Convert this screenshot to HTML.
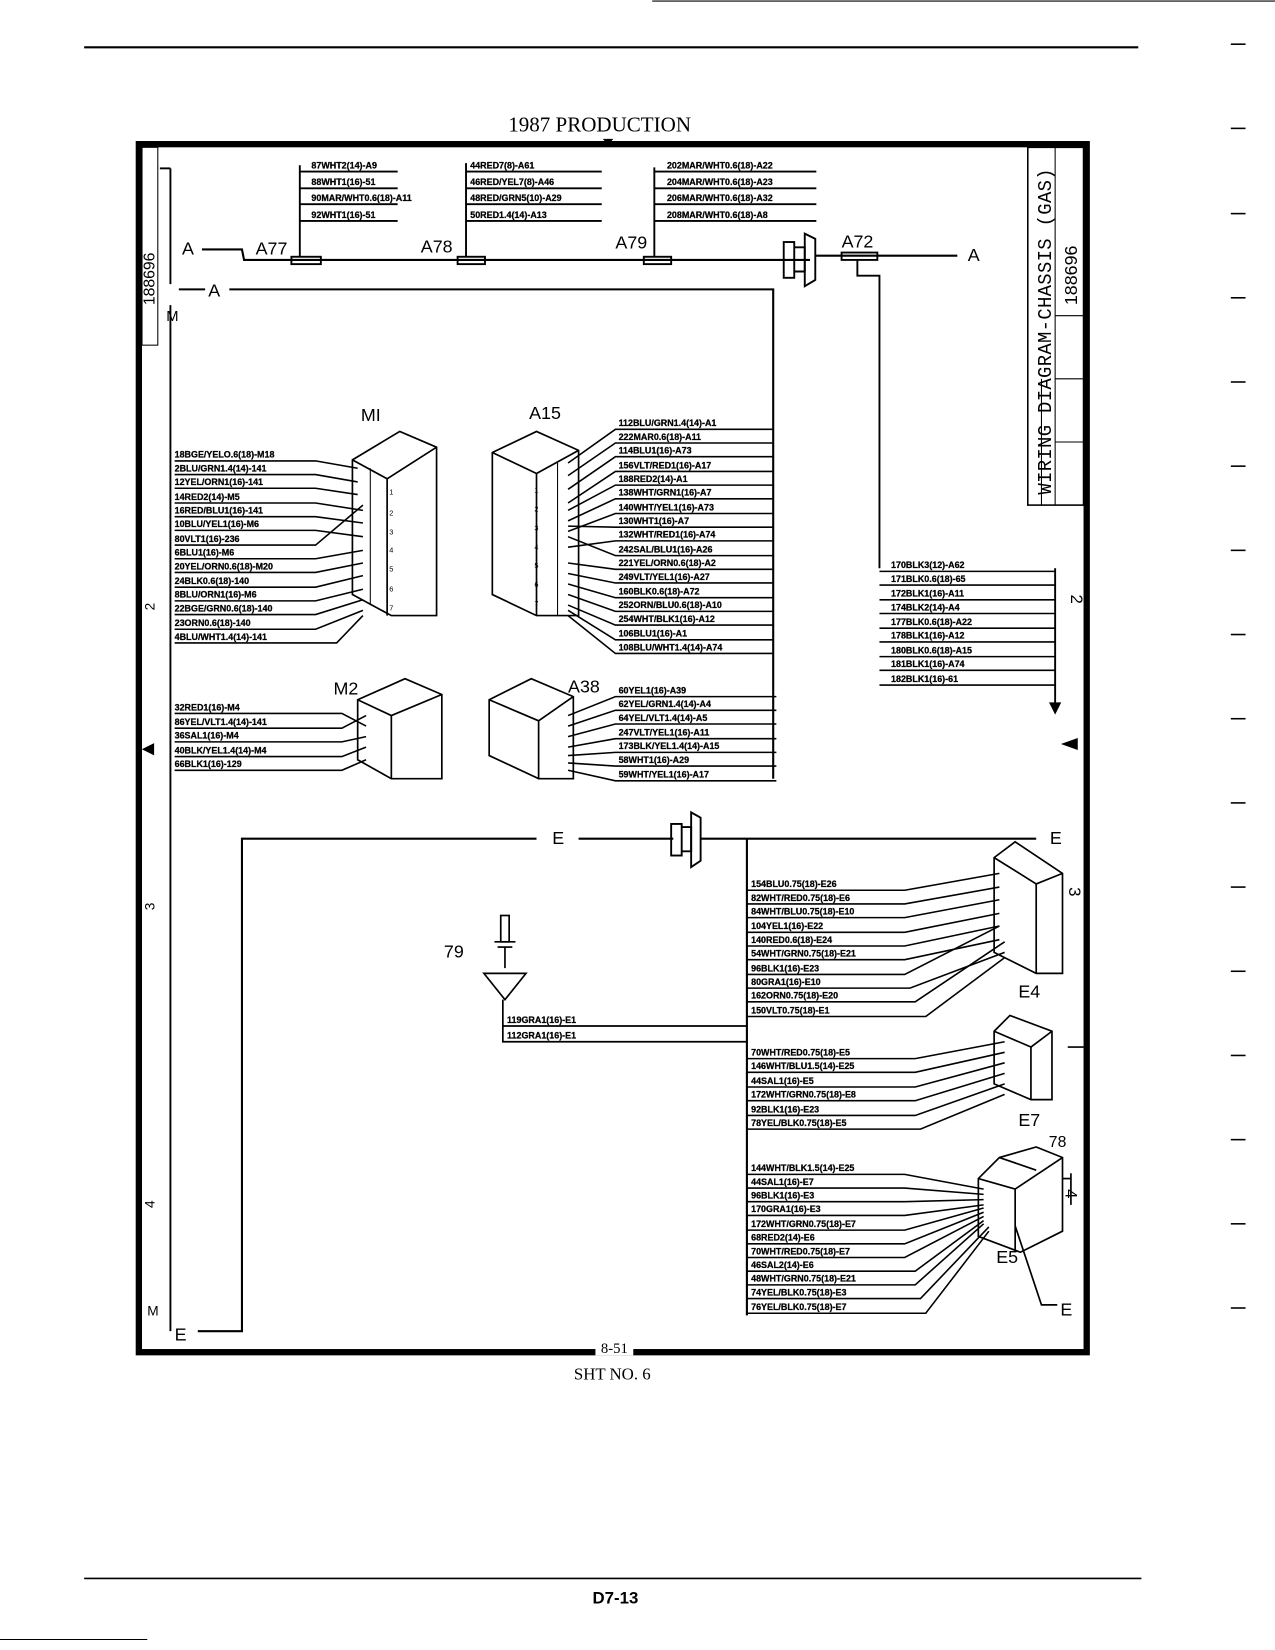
<!DOCTYPE html>
<html><head><meta charset="utf-8"><style>
html,body{margin:0;padding:0;background:#fff;}
svg{display:block;}
text{font-family:"Liberation Sans",sans-serif;fill:#000;}
.l{font-size:8.5px;font-weight:bold;stroke:#000;stroke-width:0.25px;}
.b{font-size:17px;}
</style></head><body>
<svg width="1275" height="1650" viewBox="0 0 1212 1568" preserveAspectRatio="none" xmlns="http://www.w3.org/2000/svg">
<g stroke="#000" fill="none">
<line x1="80" y1="45" x2="1082" y2="45" stroke-width="2"/>
<line x1="620" y1="1" x2="1212" y2="1" stroke-width="1"/>
<line x1="80" y1="1500" x2="1085" y2="1500" stroke-width="1.5"/>
<line x1="0" y1="1558" x2="140" y2="1558" stroke-width="1"/>
<g stroke-width="1.5">
<line x1="1170" y1="42" x2="1184" y2="42"/><line x1="1170" y1="122" x2="1184" y2="122"/><line x1="1170" y1="203" x2="1184" y2="203"/><line x1="1170" y1="283" x2="1184" y2="283"/><line x1="1170" y1="363" x2="1184" y2="363"/><line x1="1170" y1="443" x2="1184" y2="443"/><line x1="1170" y1="523" x2="1184" y2="523"/><line x1="1170" y1="603" x2="1184" y2="603"/><line x1="1170" y1="683" x2="1184" y2="683"/><line x1="1170" y1="763" x2="1184" y2="763"/><line x1="1170" y1="843" x2="1184" y2="843"/><line x1="1170" y1="923" x2="1184" y2="923"/><line x1="1170" y1="1003" x2="1184" y2="1003"/><line x1="1170" y1="1083" x2="1184" y2="1083"/><line x1="1170" y1="1163" x2="1184" y2="1163"/><line x1="1170" y1="1243" x2="1184" y2="1243"/>
</g>
<rect x="132" y="137" width="901" height="1148" stroke-width="6"/>
<line x1="162" y1="290" x2="162" y2="1265" stroke-width="1.8"/>
<line x1="152" y1="160" x2="162" y2="160" stroke-width="1.8"/>
<line x1="162" y1="160" x2="162" y2="270" stroke-width="1.8"/>
<rect x="135" y="140" width="15" height="188" stroke-width="1"/>
<rect x="977" y="140" width="53" height="340" stroke-width="1.5"/>
<line x1="1003" y1="140" x2="1003" y2="480"/><line x1="1003" y1="300" x2="1030" y2="300"/>
<line x1="1003" y1="360" x2="1030" y2="360"/><line x1="1003" y1="420" x2="1030" y2="420"/>
<line x1="990" y1="360" x2="990" y2="480"/>
<polyline points="192,237 230,237 232,247 770,247" stroke-width="2"/>
<rect x="277" y="244" width="28" height="7" stroke-width="1.8"/>
<rect x="435" y="244" width="26" height="7" stroke-width="1.8"/>
<rect x="612" y="244" width="26" height="7" stroke-width="1.8"/>
<line x1="285" y1="157" x2="285" y2="244" stroke-width="1.8"/>
<line x1="443" y1="155" x2="443" y2="244" stroke-width="1.8"/>
<line x1="622" y1="159" x2="622" y2="244" stroke-width="1.8"/>
<rect x="745" y="230" width="10" height="34" stroke-width="1.8"/>
<polyline points="755,235 765,235 765,258 755,258" stroke-width="1.8"/>
<polygon points="765,222 775,227 775,266 765,272" stroke-width="1.8"/>
<line x1="775" y1="243" x2="910" y2="243" stroke-width="2"/>
<rect x="800" y="240" width="34" height="7" stroke-width="1.8"/>
<polyline points="815,247 815,262 836,262 836,540" stroke-width="1.8"/>
<line x1="1003" y1="540" x2="1003" y2="672" stroke-width="1.8"/>
<polygon points="998,668 1008,668 1003,678" fill="#000"/>
<polyline points="218,275 735,275 735,740" stroke-width="2"/>
<line x1="170" y1="275" x2="195" y2="275" stroke-width="2"/>
<polyline points="510,797 230,797 230,1265 188,1265" stroke-width="2"/>
<line x1="550" y1="797" x2="640" y2="797" stroke-width="2"/>
<rect x="638" y="783" width="10" height="30" stroke-width="1.8"/>
<polyline points="648,786 657,786 657,809 648,809" stroke-width="1.8"/>
<polygon points="657,772 666,777 666,818 657,824" stroke-width="1.8"/>
<line x1="666" y1="797" x2="985" y2="797" stroke-width="2"/>
<line x1="710" y1="797" x2="710" y2="1250" stroke-width="2"/>
<line x1="1015" y1="995" x2="1030" y2="995" stroke-width="1.5"/>
<polygon points="1010,707 1024,702 1024,712" fill="#000"/>
<polygon points="136,712 146,707 146,717" fill="#000"/>
</g>
<text x="570" y="125" text-anchor="middle" style="font-family:'Liberation Serif',serif;font-size:20px">1987 PRODUCTION</text>
<polygon points="573,132 583,132 578,138" fill="#000"/>
<rect x="566" y="1280" width="36" height="8" fill="#fff"/>
<text x="584" y="1286" text-anchor="middle" style="font-size:14px;font-family:'Liberation Serif',serif">8-51</text>
<text x="582" y="1311" text-anchor="middle" style="font-size:16px;font-family:'Liberation Serif',serif">SHT NO. 6</text>
<text x="585" y="1524" text-anchor="middle" style="font-size:16px;font-weight:bold">D7-13</text>
<text class="b" x="173" y="242">A</text><text class="b" x="243" y="242">A77</text>
<text class="b" x="400" y="240">A78</text><text class="b" x="585" y="236">A79</text>
<text class="b" x="800" y="235">A72</text><text class="b" x="920" y="248">A</text>
<text class="b" x="198" y="282">A</text><text x="158" y="305" style="font-size:14px">M</text>
<text class="b" x="525" y="802">E</text><text class="b" x="998" y="802">E</text>
<text class="b" x="166" y="1274">E</text><text class="b" x="1008" y="1250">E</text>
<text x="140" y="1250" style="font-size:13px">M</text>
<text class="b" x="343" y="400">MI</text><text class="b" x="503" y="398">A15</text>
<text class="b" x="317" y="660">M2</text><text class="b" x="540" y="658">A38</text>
<text class="b" x="422" y="910">79</text><text class="b" x="968" y="948">E4</text>
<text class="b" x="968" y="1070">E7</text><text class="b" x="947" y="1200">E5</text>
<text x="997" y="1090" style="font-size:15px">78</text>
<text transform="translate(147,290) rotate(-90)" style="font-size:15px">188696</text>
<text transform="translate(999,470) rotate(-90)" style="font-size:18px;font-family:'Liberation Mono',monospace" textLength="310">WIRING DIAGRAM-CHASSIS (GAS)</text>
<text transform="translate(1024,290) rotate(-90)" style="font-size:17px">188696</text>
<text transform="translate(147,580) rotate(-90)" style="font-size:13px">2</text>
<text transform="translate(147,865) rotate(-90)" style="font-size:13px">3</text>
<text transform="translate(147,1148) rotate(-90)" style="font-size:13px">4</text>
<text transform="translate(1018,565) rotate(90)" style="font-size:16px">2</text>
<text transform="translate(1016,843) rotate(90)" style="font-size:16px">3</text>
<text transform="translate(1013,1130) rotate(90)" style="font-size:16px">4</text>

<g class="l">
<text x="296" y="160">87WHT2(14)-A9</text><text x="296" y="176">88WHT1(16)-51</text><text x="296" y="191">90MAR/WHT0.6(18)-A11</text><text x="296" y="207">92WHT1(16)-51</text>
<text x="447" y="160">44RED7(8)-A61</text><text x="447" y="176">46RED/YEL7(8)-A46</text><text x="447" y="191">48RED/GRN5(10)-A29</text><text x="447" y="207">50RED1.4(14)-A13</text>
<text x="634" y="160">202MAR/WHT0.6(18)-A22</text><text x="634" y="176">204MAR/WHT0.6(18)-A23</text><text x="634" y="191">206MAR/WHT0.6(18)-A32</text><text x="634" y="207">208MAR/WHT0.6(18)-A8</text>
</g>
<g stroke="#000" stroke-width="1.8">
<line x1="285" y1="163" x2="378" y2="163"/><line x1="285" y1="179" x2="378" y2="179"/><line x1="285" y1="194" x2="378" y2="194"/><line x1="285" y1="210" x2="378" y2="210"/>
<line x1="443" y1="163" x2="572" y2="163"/><line x1="443" y1="179" x2="572" y2="179"/><line x1="443" y1="194" x2="572" y2="194"/><line x1="443" y1="210" x2="572" y2="210"/>
<line x1="622" y1="163" x2="776" y2="163"/><line x1="622" y1="179" x2="776" y2="179"/><line x1="622" y1="194" x2="776" y2="194"/><line x1="622" y1="210" x2="776" y2="210"/>
</g>

<g stroke="#000" fill="none" stroke-width="1.6">
<polygon points="335,437 380,410 415,425 415,585 372,585 335,565"/>
<line x1="335" y1="437" x2="368" y2="455"/><line x1="368" y1="455" x2="415" y2="425"/><line x1="368" y1="455" x2="368" y2="585"/>
<line x1="352" y1="445" x2="352" y2="575" stroke-width="1"/>
<polygon points="468,430 510,410 550,428 550,585 510,585 468,565"/>
<line x1="468" y1="430" x2="510" y2="450"/><line x1="510" y1="450" x2="550" y2="428"/><line x1="510" y1="450" x2="510" y2="585"/>
<line x1="530" y1="440" x2="530" y2="585" stroke-width="1"/>
<polygon points="340,665 385,645 420,660 420,740 372,740 340,722"/>
<line x1="340" y1="665" x2="372" y2="680"/><line x1="372" y1="680" x2="420" y2="660"/><line x1="372" y1="680" x2="372" y2="740"/>
<polygon points="465,665 505,645 545,662 545,740 512,740 465,718"/>
<line x1="465" y1="665" x2="512" y2="685"/><line x1="512" y1="685" x2="545" y2="662"/><line x1="512" y1="685" x2="512" y2="740"/>
<polygon points="945,815 965,800 1010,830 1010,925 985,925 945,905"/>
<line x1="945" y1="815" x2="985" y2="840"/><line x1="985" y1="840" x2="1010" y2="830"/><line x1="985" y1="840" x2="985" y2="925"/>
<polygon points="945,980 960,965 1000,980 1000,1045 980,1045 945,1030"/>
<line x1="945" y1="980" x2="980" y2="995"/><line x1="980" y1="995" x2="1000" y2="980"/><line x1="980" y1="995" x2="980" y2="1045"/>
<polygon points="930,1120 950,1100 985,1090 1010,1100 1010,1170 970,1190 930,1175"/>
<line x1="930" y1="1120" x2="965" y2="1130"/><line x1="965" y1="1130" x2="1010" y2="1100"/><line x1="965" y1="1130" x2="965" y2="1190"/>
<line x1="950" y1="1100" x2="985" y2="1112"/>
<line x1="1010" y1="1120" x2="1018" y2="1120"/><line x1="1018" y1="1115" x2="1018" y2="1145"/>
<polyline points="965,1165 990,1240 1005,1240"/>
<rect x="476" y="870" width="8" height="25"/>
<line x1="470" y1="895" x2="490" y2="895"/><line x1="473" y1="900" x2="487" y2="900"/>
<line x1="480" y1="900" x2="480" y2="920"/>
<polygon points="460,925 500,925 480,950"/>
<polyline points="478,950 478,990 710,990"/>
<line x1="478" y1="975" x2="710" y2="975"/>
</g>
<g style="font-size:7px">
<text x="370" y="470">1</text><text x="370" y="490">2</text><text x="370" y="508">3</text><text x="370" y="525">4</text><text x="370" y="543">5</text><text x="370" y="562">6</text><text x="370" y="580">7</text>
<text x="508" y="468">1</text><text x="508" y="486">2</text><text x="508" y="504">3</text><text x="508" y="522">4</text><text x="508" y="540">5</text><text x="508" y="558">6</text><text x="508" y="576">7</text>
</g>

<g class="l">
<text x="166" y="435">18BGE/YELO.6(18)-M18</text><text x="166" y="448">2BLU/GRN1.4(14)-141</text><text x="166" y="461">12YEL/ORN1(16)-141</text><text x="166" y="475">14RED2(14)-M5</text><text x="166" y="488">16RED/BLU1(16)-141</text><text x="166" y="501">10BLU/YEL1(16)-M6</text><text x="166" y="515">80VLT1(16)-236</text><text x="166" y="528">6BLU1(16)-M6</text><text x="166" y="541">20YEL/ORN0.6(18)-M20</text><text x="166" y="555">24BLK0.6(18)-140</text><text x="166" y="568">8BLU/ORN1(16)-M6</text><text x="166" y="581">22BGE/GRN0.6(18)-140</text><text x="166" y="595">23ORN0.6(18)-140</text><text x="166" y="608">4BLU/WHT1.4(14)-141</text>
</g>
<g stroke="#000" stroke-width="1.5" fill="none">
<polyline points="166,438 300,438 340,445"/><polyline points="166,451 300,451 340,458"/><polyline points="166,464 300,464 340,470"/><polyline points="166,478 300,478 345,485"/><polyline points="166,491 300,491 345,497"/><polyline points="166,504 300,504 345,510"/><polyline points="166,518 300,518 345,480"/><polyline points="166,531 300,531 345,523"/><polyline points="166,544 300,544 345,535"/><polyline points="166,558 300,558 345,547"/><polyline points="166,571 300,571 345,560"/><polyline points="166,584 300,584 345,570"/><polyline points="166,598 300,598 345,580"/><polyline points="166,611 320,611 345,585"/>
</g>
<g class="l">
<text x="588" y="405">112BLU/GRN1.4(14)-A1</text><text x="588" y="418">222MAR0.6(18)-A11</text><text x="588" y="431">114BLU1(16)-A73</text><text x="588" y="445">156VLT/RED1(16)-A17</text><text x="588" y="458">188RED2(14)-A1</text><text x="588" y="471">138WHT/GRN1(16)-A7</text><text x="588" y="485">140WHT/YEL1(16)-A73</text><text x="588" y="498">130WHT1(16)-A7</text><text x="588" y="511">132WHT/RED1(16)-A74</text><text x="588" y="525">242SAL/BLU1(16)-A26</text><text x="588" y="538">221YEL/ORN0.6(18)-A2</text><text x="588" y="551">249VLT/YEL1(16)-A27</text><text x="588" y="565">160BLK0.6(18)-A72</text><text x="588" y="578">252ORN/BLU0.6(18)-A10</text><text x="588" y="591">254WHT/BLK1(16)-A12</text><text x="588" y="605">106BLU1(16)-A1</text><text x="588" y="618">108BLU/WHT1.4(14)-A74</text>
</g>
<g stroke="#000" stroke-width="1.5" fill="none">
<polyline points="735,408 585,408 540,440"/><polyline points="735,421 585,421 540,452"/><polyline points="735,434 585,434 540,465"/><polyline points="735,448 585,448 540,478"/><polyline points="735,461 585,461 540,485"/><polyline points="735,474 585,474 540,495"/><polyline points="735,488 585,488 540,505"/><polyline points="735,501 585,501 540,500"/><polyline points="735,514 585,514 540,520"/><polyline points="735,528 585,528 540,510"/><polyline points="735,541 585,541 540,535"/><polyline points="735,554 585,554 540,545"/><polyline points="735,568 585,568 540,555"/><polyline points="735,581 585,581 540,565"/><polyline points="735,594 585,594 540,575"/><polyline points="735,608 585,608 540,580"/><polyline points="735,621 585,621 540,585"/>
</g>
<g class="l">
<text x="166" y="675">32RED1(16)-M4</text><text x="166" y="689">86YEL/VLT1.4(14)-141</text><text x="166" y="702">36SAL1(16)-M4</text><text x="166" y="716">40BLK/YEL1.4(14)-M4</text><text x="166" y="729">66BLK1(16)-129</text>
</g>
<g stroke="#000" stroke-width="1.5" fill="none">
<polyline points="166,678 325,678 348,690"/><polyline points="166,692 325,692 348,680"/><polyline points="166,705 325,705 348,700"/><polyline points="166,719 325,719 348,710"/><polyline points="166,732 325,732 348,722"/>
</g>
<g class="l">
<text x="588" y="659">60YEL1(16)-A39</text><text x="588" y="672">62YEL/GRN1.4(14)-A4</text><text x="588" y="685">64YEL/VLT1.4(14)-A5</text><text x="588" y="699">247VLT/YEL1(16)-A11</text><text x="588" y="712">173BLK/YEL1.4(14)-A15</text><text x="588" y="725">58WHT1(16)-A29</text><text x="588" y="739">59WHT/YEL1(16)-A17</text>
</g>
<g stroke="#000" stroke-width="1.5" fill="none">
<polyline points="738,662 585,662 540,680"/><polyline points="738,675 585,675 540,690"/><polyline points="738,688 585,688 540,700"/><polyline points="738,702 585,702 540,710"/><polyline points="738,715 585,715 540,718"/><polyline points="738,728 585,728 540,725"/><polyline points="738,742 585,742 540,732"/>
</g>
<g class="l">
<text x="847" y="540">170BLK3(12)-A62</text><text x="847" y="553">171BLK0.6(18)-65</text><text x="847" y="567">172BLK1(16)-A11</text><text x="847" y="580">174BLK2(14)-A4</text><text x="847" y="594">177BLK0.6(18)-A22</text><text x="847" y="607">178BLK1(16)-A12</text><text x="847" y="621">180BLK0.6(18)-A15</text><text x="847" y="634">181BLK1(16)-A74</text><text x="847" y="648">182BLK1(16)-61</text>
</g>
<g stroke="#000" stroke-width="1.5">
<line x1="836" y1="543" x2="1003" y2="543"/><line x1="836" y1="556" x2="1003" y2="556"/><line x1="836" y1="570" x2="1003" y2="570"/><line x1="836" y1="583" x2="1003" y2="583"/><line x1="836" y1="597" x2="1003" y2="597"/><line x1="836" y1="610" x2="1003" y2="610"/><line x1="836" y1="624" x2="1003" y2="624"/><line x1="836" y1="637" x2="1003" y2="637"/><line x1="836" y1="651" x2="1003" y2="651"/>
</g>
<g class="l"><text x="482" y="972">119GRA1(16)-E1</text><text x="482" y="987">112GRA1(16)-E1</text></g>
<g class="l">
<text x="714" y="843">154BLU0.75(18)-E26</text><text x="714" y="856">82WHT/RED0.75(18)-E6</text><text x="714" y="869">84WHT/BLU0.75(18)-E10</text><text x="714" y="883">104YEL1(16)-E22</text><text x="714" y="896">140RED0.6(18)-E24</text><text x="714" y="909">54WHT/GRN0.75(18)-E21</text><text x="714" y="923">96BLK1(16)-E23</text><text x="714" y="936">80GRA1(16)-E10</text><text x="714" y="949">162ORN0.75(18)-E20</text><text x="714" y="963">150VLT0.75(18)-E1</text>
</g>
<g stroke="#000" stroke-width="1.5" fill="none">
<polyline points="710,846 860,846 950,830"/><polyline points="710,859 860,859 950,843"/><polyline points="710,872 860,872 950,855"/><polyline points="710,886 860,886 950,868"/><polyline points="710,899 860,899 950,880"/><polyline points="710,912 860,912 950,893"/><polyline points="710,926 860,926 950,880"/><polyline points="710,939 865,939 955,905"/><polyline points="710,952 870,952 955,895"/><polyline points="710,966 880,966 955,910"/>
</g>
<g class="l">
<text x="714" y="1003">70WHT/RED0.75(18)-E5</text><text x="714" y="1016">146WHT/BLU1.5(14)-E25</text><text x="714" y="1030">44SAL1(16)-E5</text><text x="714" y="1043">172WHT/GRN0.75(18)-E8</text><text x="714" y="1057">92BLK1(16)-E23</text><text x="714" y="1070">78YEL/BLK0.75(18)-E5</text>
</g>
<g stroke="#000" stroke-width="1.5" fill="none">
<polyline points="710,1006 870,1006 955,990"/><polyline points="710,1019 870,1019 955,1000"/><polyline points="710,1033 870,1033 955,1010"/><polyline points="710,1046 870,1046 955,1020"/><polyline points="710,1060 870,1060 955,1030"/><polyline points="710,1073 875,1073 955,1040"/>
</g>
<g class="l">
<text x="714" y="1113">144WHT/BLK1.5(14)-E25</text><text x="714" y="1126">44SAL1(16)-E7</text><text x="714" y="1139">96BLK1(16)-E3</text><text x="714" y="1152">170GRA1(16)-E3</text><text x="714" y="1166">172WHT/GRN0.75(18)-E7</text><text x="714" y="1179">68RED2(14)-E6</text><text x="714" y="1192">70WHT/RED0.75(18)-E7</text><text x="714" y="1205">46SAL2(14)-E6</text><text x="714" y="1218">48WHT/GRN0.75(18)-E21</text><text x="714" y="1231">74YEL/BLK0.75(18)-E3</text><text x="714" y="1245">76YEL/BLK0.75(18)-E7</text>
</g>
<g stroke="#000" stroke-width="1.5" fill="none">
<polyline points="710,1116 860,1116 935,1130"/><polyline points="710,1129 860,1129 935,1135"/><polyline points="710,1142 860,1142 935,1140"/><polyline points="710,1155 860,1155 935,1145"/><polyline points="710,1169 860,1169 935,1148"/><polyline points="710,1182 860,1182 935,1152"/><polyline points="710,1195 860,1195 935,1156"/><polyline points="710,1208 870,1208 935,1160"/><polyline points="710,1221 870,1221 935,1163"/><polyline points="710,1234 875,1234 940,1166"/><polyline points="710,1248 880,1248 940,1170"/>
</g>
</svg>
</body></html>
